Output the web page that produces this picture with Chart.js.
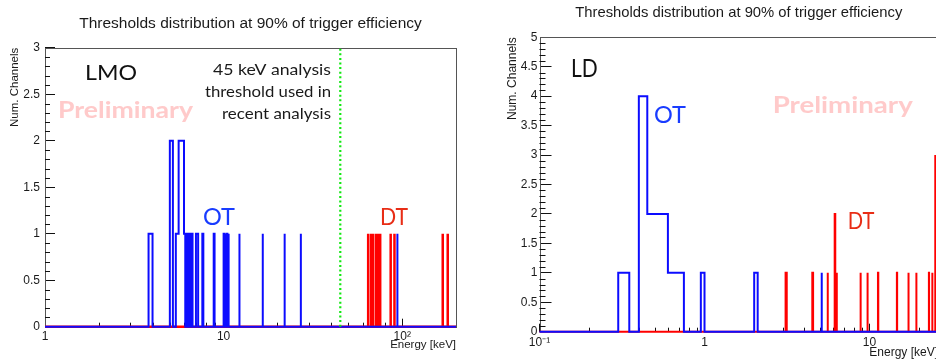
<!DOCTYPE html>
<html>
<head>
<meta charset="utf-8">
<title>Thresholds distribution at 90% of trigger efficiency</title>
<script src="https://cdn.jsdelivr.net/npm/chart.js@4.4.1/dist/chart.umd.min.js"></script>
<style>
  html, body { margin: 0; padding: 0; background: #fff; overflow: hidden; width: 936px; height: 360px; }
  .pad { position: absolute; top: 0; height: 360px; }
  #lmoPad { left: 0; width: 466px; }
  #ldPad { left: 466px; width: 480px; }
</style>
</head>
<body>
<div class="pad" id="lmoPad"><canvas id="lmoChart" width="466" height="360"></canvas></div>
<div class="pad" id="ldPad"><canvas id="ldChart" width="480" height="360"></canvas></div>
<script>
// === LMO DATA (left pad) ===
const lmoBinWidth = 0.1; // keV
const lmoOtBins   = [3.8, 3.9, 5.0, 5.1, 5.4, 5.5, 5.6, 5.7, 5.8, 5.9, 6.0, 6.2, 6.4, 6.6, 7.0, 7.1, 7.6, 8.8, 10.0, 10.2, 10.4, 10.6, 12.2, 16.5, 21.9, 27.0, 93.9];
const lmoOtCounts = [1,   1,   2,   2,   1,   1,   2,   2,   2,   2,   1,   1,   1,   1,   1,   1,   1,   1,   1,    1,    1,    1,    1,    1,    1,    1,    1];
const lmoDtBins   = [64.4, 66.9, 68.7, 71.4, 73.3, 75.2, 86.1, 90.4, 168.5, 179.7];
const lmoDtCounts = [1,    1,    1,    1,    1,    1,    1,    1,    1,     1];
const lmoThreshold = 45; // keV, analysis threshold
const lmoXTicks = [1, 10, 100];
const lmoXTickLabels = ['1', '10', '10²'];
const lmoXMinor = [2, 3, 4, 5, 6, 7, 8, 9, 20, 30, 40, 50, 60, 70, 80, 90];
const lmoYTicks = [0, 0.5, 1, 1.5, 2, 2.5, 3];
const lmoYTickLabels = ['0', '0.5', '1', '1.5', '2', '2.5', '3'];

// === LD DATA (right pad) ===
const ldBinWidth = 0.05; // keV
const ldOtBins   = [0.30, 0.40, 0.45, 0.50, 0.55, 0.60, 0.65, 0.70, 0.95, 2.00, 2.05, 5.10];
const ldOtCounts = [1,    4,    2,    2,    2,    1,    1,    1,    1,    1,    1,    1];
const ldDtBins   = [3.1, 4.5, 5.55, 6.15, 6.3, 8.8, 9.7, 11.25, 14.65, 17.2, 19.2, 22.9, 24.0, 25.0];
const ldDtCounts = [1,   1,   1,    2,    1,   1,   1,   1,     1,     1,    1,    1,    1,    3];
const ldXTicks = [0.1, 1, 10];
const ldXTickLabels = ['10⁻¹', '1', '10'];
const ldXMinor = [0.2, 0.3, 0.4, 0.5, 0.6, 0.7, 0.8, 0.9, 2, 3, 4, 5, 6, 7, 8, 9, 20];
const ldYTicks = [0, 0.5, 1, 1.5, 2, 2.5, 3, 3.5, 4, 4.5, 5];
const ldYTickLabels = ['0', '0.5', '1', '1.5', '2', '2.5', '3', '3.5', '4', '4.5', '5'];

const SANS = "'Liberation Sans', Arial, sans-serif";
const HIST_BLUE = 'rgb(12,12,255)';
const HIST_RED = 'rgb(255,0,0)';
const OT_TEXT = 'rgb(25,60,255)';
const DT_TEXT = 'rgb(232,45,22)';
const PRELIM = 'rgb(255,202,202)';
const INK = '#1a1a1a';

Chart.defaults.font.family = SANS;
Chart.defaults.color = INK;

// === ROOT-LIKE HISTOGRAM OUTLINE (baseline + bin steps) ===
function outline(lows, counts, width, xMin, xMax) {
  const pts = [{ x: xMin, y: 0 }];
  let level = 0, lastHi = xMin;
  lows.forEach((lo, i) => {
    if (lo > lastHi + 1e-6 && level !== 0) {
      pts.push({ x: lastHi, y: 0 });
      level = 0;
    }
    const hi = lo + width;
    pts.push({ x: lo, y: level }, { x: lo, y: counts[i] }, { x: hi, y: counts[i] });
    level = counts[i];
    lastHi = hi;
  });
  pts.push({ x: lastHi, y: 0 }, { x: xMax, y: 0 });
  return pts;
}

// frame + minor ticks, drawn under the histograms
function framePlugin(xMinor, yMinor, yLen) {
  return {
    id: 'rootFrame',
    beforeDatasetsDraw(chart) {
      const { ctx, chartArea: a, scales: { x, y } } = chart;
      ctx.save();
      ctx.lineWidth = 1;
      ctx.strokeStyle = '#555';
      ctx.strokeRect(Math.round(a.left) + 0.5, Math.round(a.top) + 0.5, Math.round(a.right - a.left), Math.round(a.bottom - a.top));
      ctx.strokeStyle = '#111';
      ctx.beginPath();
      xMinor.forEach(v => {
        const px = Math.round(x.getPixelForValue(v)) + 0.5;
        ctx.moveTo(px, a.bottom);
        ctx.lineTo(px, a.bottom - 4);
      });
      yMinor.forEach(v => {
        const py = Math.round(y.getPixelForValue(v)) + 0.5;
        ctx.moveTo(a.left, py);
        ctx.lineTo(a.left + yLen, py);
      });
      ctx.stroke();
      ctx.restore();
    }
  };
}

// pad labels; w = width the text should fill (stretches the glyphs sideways)
function textPlugin(items) {
  return {
    id: 'padText',
    afterDatasetsDraw(chart) {
      const ctx = chart.ctx;
      items.forEach(t => {
        ctx.save();
        ctx.font = t.font;
        ctx.fillStyle = t.color;
        ctx.textBaseline = 'alphabetic';
        ctx.textAlign = 'left';
        const sx = t.w ? t.w / ctx.measureText(t.text).width : 1;
        const left = t.align === 'right' ? t.x - (t.w || ctx.measureText(t.text).width) : t.x;
        ctx.translate(left, t.y);
        ctx.scale(sx, 1);
        ctx.fillText(t.text, 0, 0);
        ctx.restore();
      });
    }
  };
}

function minorSteps(max, majors) {
  const out = [];
  for (let i = 1; i < Math.round(max * 10); i++) {
    const v = i / 10;
    if (!majors.some(m => Math.abs(m - v) < 1e-6)) out.push(v);
  }
  return out;
}

// === ONE PAD ===
function makePad(id, d, g) {
  const datasets = [];
  if (d.threshold) {
    datasets.push({ data: [{ x: d.threshold, y: 0 }, { x: d.threshold, y: d.yMax }], borderColor: '#12e812', borderWidth: 2.2, borderDash: [2, 2.6] });
  }
  datasets.push({ data: outline(d.otBins, d.otCounts, d.binWidth, d.xMin, d.xMax), borderColor: HIST_BLUE, borderWidth: 2 });
  datasets.push({ data: outline(d.dtBins, d.dtCounts, d.binWidth, d.xMin, d.xMax), borderColor: HIST_RED, borderWidth: g.dtWidth });

  return new Chart(document.getElementById(id), {
    type: 'scatter',
    data: { datasets: datasets.map(ds => ({ showLine: true, pointRadius: 0, tension: 0, clip: 3, ...ds })) },
    options: {
      responsive: false,
      animation: false,
      events: [],
      layout: { padding: g.padding },
      plugins: {
        legend: { display: false },
        tooltip: { enabled: false },
        title: {
          display: true,
          text: 'Thresholds distribution at 90% of trigger efficiency',
          fullSize: false,
          color: INK,
          font: { size: g.titleSize, weight: 'normal' },
          padding: g.titlePad
        }
      },
      scales: {
        x: {
          type: 'logarithmic',
          min: d.xMin,
          max: d.xMax,
          afterFit: s => { s.height = g.xAxisH; },
          afterBuildTicks: s => { s.ticks = d.xTicks.map(v => ({ value: v })); },
          ticks: { callback: (v, i) => d.xTickLabels[i], font: { size: 12 }, color: INK, padding: g.xLabelPad, maxRotation: 0, autoSkip: false },
          grid: { drawOnChartArea: false, tickLength: -8, tickColor: '#111', tickWidth: 1 },
          border: { display: false },
          title: { display: true, text: 'Energy [keV]', align: 'end', color: INK, font: { size: g.axisTitleSize }, padding: { top: 0, bottom: g.xTitlePad } }
        },
        y: {
          min: 0,
          max: d.yMax,
          afterFit: s => { s.width = g.yAxisW; },
          afterBuildTicks: s => { s.ticks = d.yTicks.map(v => ({ value: v })); },
          ticks: { callback: (v, i) => d.yTickLabels[i], font: { size: 12 }, color: INK, padding: g.yLabelPad },
          grid: { drawOnChartArea: false, tickLength: -g.yMajorLen, tickColor: '#111', tickWidth: 1 },
          border: { display: false },
          title: { display: true, text: 'Num. Channels', align: 'end', color: INK, font: { size: g.axisTitleSize }, padding: { top: g.yTitlePad, bottom: 0 } }
        }
      }
    },
    plugins: [framePlugin(d.xMinor, minorSteps(d.yMax, d.yTicks), g.yMinorLen), textPlugin(g.texts)]
  });
}

// === LEFT: LMO ===
makePad('lmoChart', {
  binWidth: lmoBinWidth, otBins: lmoOtBins, otCounts: lmoOtCounts, dtBins: lmoDtBins, dtCounts: lmoDtCounts,
  threshold: lmoThreshold, xMin: 1, xMax: 200, yMax: 3,
  xTicks: lmoXTicks, xTickLabels: lmoXTickLabels, xMinor: lmoXMinor, yTicks: lmoYTicks, yTickLabels: lmoYTickLabels
}, {
  padding: { left: 0, right: 10, top: 0, bottom: 0 },
  titleSize: 15.5, titlePad: { top: 14.7, bottom: 14.4 },
  xAxisH: 33.3, yAxisW: 45, xLabelPad: 11, yLabelPad: 15, yMajorLen: 10, yMinorLen: 5,
  axisTitleSize: 11.5, xTitlePad: 8.1, yTitlePad: 8.1, dtWidth: 2.5,
  texts: [
    { text: 'LMO', x: 85, y: 80, w: 52, font: '22px Lato', color: '#111' },
    { text: 'Preliminary', x: 58, y: 118.3, w: 135, font: 'bold 23px Lato', color: PRELIM },
    { text: '45 keV analysis', x: 331, y: 75, w: 118, font: '15px Lato', color: INK, align: 'right' },
    { text: 'threshold used in', x: 331, y: 97, w: 126, font: '15px Lato', color: INK, align: 'right' },
    { text: 'recent analysis', x: 331, y: 119.3, w: 109, font: '15px Lato', color: INK, align: 'right' },
    { text: 'OT', x: 203, y: 225, w: 32, font: '23px Lato', color: OT_TEXT },
    { text: 'DT', x: 380, y: 225, w: 28, font: '23px Lato', color: DT_TEXT }
  ]
});

// === RIGHT: LD (frame runs past the window edge) ===
makePad('ldChart', {
  binWidth: ldBinWidth, otBins: ldOtBins, otCounts: ldOtCounts, dtBins: ldDtBins, dtCounts: ldDtCounts,
  threshold: null, xMin: 0.1, xMax: 26, yMax: 5,
  xTicks: ldXTicks, xTickLabels: ldXTickLabels, xMinor: ldXMinor, yTicks: ldYTicks, yTickLabels: ldYTickLabels
}, {
  padding: { left: 38, right: 8, top: 0, bottom: 0 },
  titleSize: 14.8, titlePad: { top: 3.8, bottom: 15.7 },
  xAxisH: 28.3, yAxisW: 35.5, xLabelPad: 12, yLabelPad: 14, yMajorLen: 12, yMinorLen: 6,
  axisTitleSize: 12, xTitlePad: 0, yTitlePad: 1.5, dtWidth: 2,
  texts: [
    { text: 'LD', x: 105, y: 76.7, w: 26.7, font: '25px Lato', color: '#111' },
    { text: 'Preliminary', x: 306.7, y: 112.7, w: 140, font: 'bold 23px Lato', color: PRELIM },
    { text: 'OT', x: 188, y: 123.3, w: 32, font: '24px Lato', color: OT_TEXT },
    { text: 'DT', x: 381.7, y: 229.3, w: 26.6, font: '24px Lato', color: DT_TEXT }
  ]
});
</script>
</body>
</html>
